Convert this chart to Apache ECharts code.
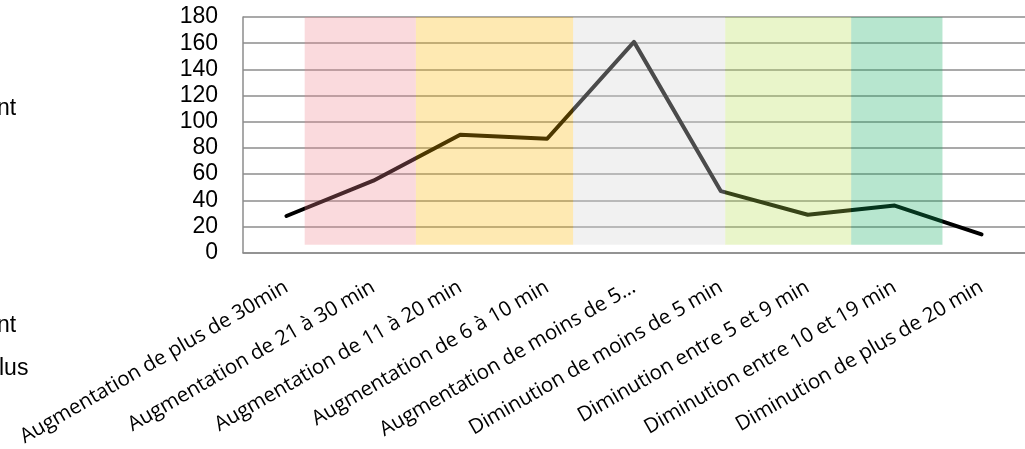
<!DOCTYPE html>
<html>
<head>
<meta charset="utf-8">
<script src="https://cdn.jsdelivr.net/npm/echarts@6/dist/echarts.min.js"></script>
<style>html,body{margin:0;padding:0;background:#fff;}#c{width:1025px;height:449px;}</style>
</head>
<body>
<div id="c"></div>
<script>
const categories = [
  "Augmentation de plus de 30min",
  "Augmentation de 21 à 30 min",
  "Augmentation de 11 à 20 min",
  "Augmentation de 6 à 10 min",
  "Augmentation de moins de 5…",
  "Diminution de moins de 5 min",
  "Diminution entre 5 et 9 min",
  "Diminution entre 10 et 19 min",
  "Diminution de plus de 20 min"
];
const values = [28, 55, 90, 87, 161, 47, 29, 36, 14];
const yTicks = { min: 0, max: 180, interval: 20 };
// coloured bands, in category units (category i sits at i)
const bandStart = [0.21, 1.49, 3.30, 5.05, 6.50];
const bandEnd   = [1.49, 3.30, 5.05, 6.50, 7.55];
const bandLow  = 6;
const bandHigh = 180;
const leftTexts = ["nt", "nt", "lus"];

const bandColors = [
  'rgba(238,132,142,0.3)',
  'rgba(252,182,0,0.3)',
  'rgba(215,215,215,0.35)',
  'rgba(182,222,78,0.3)',
  'rgba(15,172,95,0.3)'
];

const chart = echarts.init(document.getElementById('c'));
const bandData = bandStart.map((s, i) => [s, bandEnd[i], bandLow, bandHigh, i]);
const leftPos = [{x: -3, y: 110}, {x: -3, y: 327}, {x: -1, y: 370}];

chart.setOption({
  animation: false,
  grid: { left: 243, top: 17, width: 788, bottom: 194, containLabel: false },
  xAxis: [
    {
      type: 'category',
      data: categories,
      boundaryGap: true,
      axisLine: { show: true, onZero: false, lineStyle: { color: '#8c8c8c', width: 1.5 } },
      axisTick: { show: false },
      axisLabel: {
        interval: 0, rotate: 30, margin: 33,
        fontFamily: 'Open Sans', fontSize: 20.5, color: '#000'
      },
      splitLine: { show: false }
    },
    { type: 'value', min: -0.5, max: 8.5, show: false }
  ],
  yAxis: {
    type: 'value', min: yTicks.min, max: yTicks.max, interval: yTicks.interval,
    axisLine: { show: true, onZero: false, lineStyle: { color: '#8c8c8c', width: 1.5 } },
    axisTick: { show: false },
    axisLabel: { fontFamily: 'Liberation Sans', fontSize: 23, color: '#000', margin: 25 },
    splitLine: { show: true, lineStyle: { color: '#8c8c8c', width: 1.5 } }
  },
  series: [
    {
      type: 'line', data: values, xAxisIndex: 0, z: 2,
      symbol: 'none',
      lineStyle: { color: '#000', width: 4, cap: 'round', join: 'round' }
    },
    {
      type: 'custom', xAxisIndex: 1, z: 5, silent: true,
      data: bandData,
      renderItem: function (params, api) {
        const p1 = api.coord([api.value(0), api.value(3)]);
        const p2 = api.coord([api.value(1), api.value(2)]);
        return {
          type: 'rect',
          shape: { x: p1[0], y: p1[1], width: p2[0] - p1[0], height: p2[1] - p1[1] },
          style: { fill: bandColors[api.value(4)] }
        };
      }
    }
  ],
  graphic: leftTexts.map((t, i) => ({
    type: 'text', left: leftPos[i].x, top: leftPos[i].y - 13,
    style: { text: t, fontFamily: 'Liberation Sans', fontSize: 23, fill: '#000' }
  }))
});
</script>
</body>
</html>
